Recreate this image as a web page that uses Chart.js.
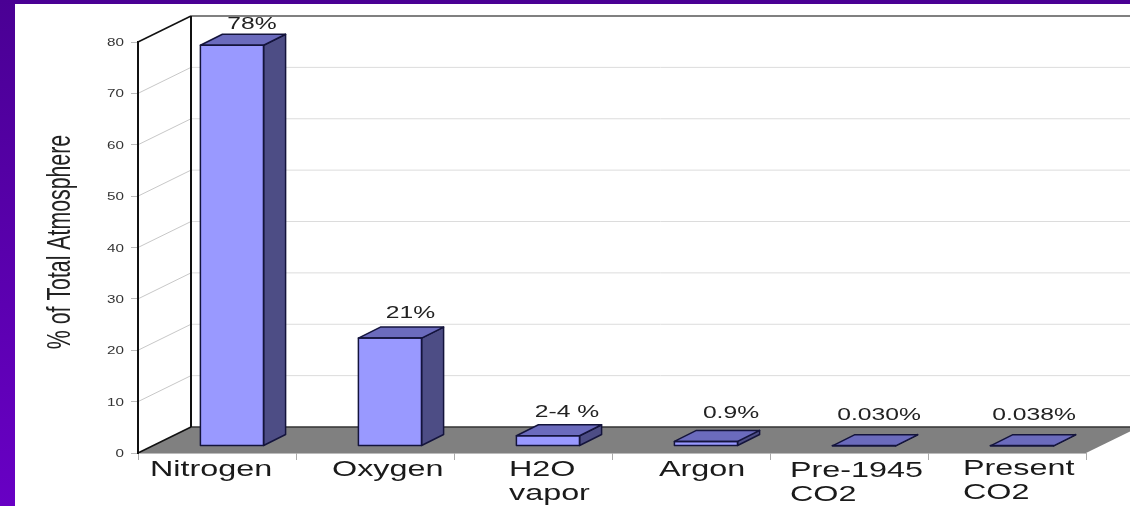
<!DOCTYPE html>
<html>
<head>
<meta charset="utf-8">
<title>Atmosphere</title>
<script src="https://cdn.jsdelivr.net/npm/chart.js@4"></script>
<style>
    html, body { margin: 0; padding: 0; overflow: hidden; }
    body { width: 1130px; height: 506px; background: linear-gradient(#4a0094, #6800c4); }
    #atmosphereChart { position: absolute; left: 0; top: 0; }
</style>
</head>
<body>
<canvas id="atmosphereChart" width="1130" height="506"></canvas>
<script>
var categories = [["Nitrogen"], ["Oxygen"], ["H2O", "vapor"], ["Argon"], ["Pre-1945", "CO2"], ["Present", "CO2"]];
var percentValues = [78, 21, 2, 0.9, 0.03, 0.038];
var valueLabels = ["78%", "21%", "2-4 %", "0.9%", "0.030%", "0.038%"];
var yTicks = [0, 10, 20, 30, 40, 50, 60, 70, 80];
var yTitle = "% of Total Atmosphere";

// the source picture is stretched sideways, so text is widened when drawn
var textStretch = 1.45;
var wall = { dx: 53, dy: -26 };
var barFront = { dx: 15, dy: -7 };
var barDepth = { dx: 22, dy: -11 };
var labelShift = [-67, -43, -24, -32, -59, -44];
var labelDrop = [23, 23, 23, 23, 24, 22];
var valueShift = [35, 35.5, 34, 40, 30, 27];
var valueLift = [5, 9, 8, 12, 15, 15];

function stretchedText(ctx, text, x, y, size, color, align) {
    ctx.save();
    ctx.translate(x, y);
    ctx.scale(textStretch, 1);
    ctx.font = size + "px 'Liberation Sans'";
    ctx.fillStyle = color;
    ctx.textAlign = align;
    ctx.textBaseline = "alphabetic";
    ctx.fillText(text, 0, 0);
    ctx.restore();
}

function poly(ctx, points, fill, stroke, width) {
    ctx.beginPath();
    points.forEach(function (p, i) {
        if (i === 0) ctx.moveTo(p[0], p[1]);
        else ctx.lineTo(p[0], p[1]);
    });
    ctx.closePath();
    if (fill) { ctx.fillStyle = fill; ctx.fill(); }
    if (stroke) { ctx.strokeStyle = stroke; ctx.lineWidth = width; ctx.stroke(); }
}

function line(ctx, x1, y1, x2, y2, color, width) {
    ctx.beginPath();
    ctx.moveTo(x1, y1);
    ctx.lineTo(x2, y2);
    ctx.strokeStyle = color;
    ctx.lineWidth = width;
    ctx.stroke();
}

var roomPlugin = {
    id: "room",
    beforeDraw: function (chart) {
        var ctx = chart.ctx, a = chart.chartArea, y = chart.scales.y;
        ctx.save();
        ctx.fillStyle = "#ffffff";
        ctx.fillRect(15, 4, 1115, 502);
        // floor
        var floorTop = a.bottom + wall.dy;
        poly(ctx, [[a.left, a.bottom], [a.left + wall.dx, floorTop], [a.right + wall.dx, floorTop], [a.right, a.bottom]], "#808080");
        // grid on back wall and side wall
        yTicks.forEach(function (t) {
            var py = y.getPixelForValue(t);
            if (t > 0 && t < 80) {
                line(ctx, a.left, py, a.left + wall.dx, py + wall.dy, "#c8c8c8", 1);
                line(ctx, a.left + wall.dx, py + wall.dy, 1130, py + wall.dy, "#dcdcdc", 1);
            }
        });
        var top = y.getPixelForValue(80);
        line(ctx, a.left + wall.dx, top + wall.dy, 1130, top + wall.dy, "#808080", 2);
        line(ctx, a.left + wall.dx, floorTop, 1130, floorTop, "#333333", 1.5);
        line(ctx, a.left + wall.dx, top + wall.dy, a.left + wall.dx, floorTop, "#111111", 2);
        line(ctx, a.left, top, a.left + wall.dx, top + wall.dy, "#111111", 1.5);
        line(ctx, a.left, a.bottom, a.left + wall.dx, floorTop, "#111111", 1.5);
        line(ctx, a.left, a.bottom + 0.5, a.right, a.bottom + 0.5, "#bbbbbb", 1);
        ctx.restore();
    },
    beforeDatasetsDraw: function (chart) {
        chart.ctx.save();
        chart.ctx.translate(barFront.dx, barFront.dy);
    },
    afterDatasetsDraw: function (chart) {
        var ctx = chart.ctx;
        ctx.restore();
        ctx.save();
        ctx.lineJoin = "round";
        chart.getDatasetMeta(0).data.forEach(function (bar, i) {
            var l = bar.x - bar.width / 2 + barFront.dx;
            var r = bar.x + bar.width / 2 + barFront.dx;
            var t = bar.y + barFront.dy;
            var b = bar.base + barFront.dy;
            var dx = barDepth.dx, dy = barDepth.dy;
            poly(ctx, [[r, t], [r + dx, t + dy], [r + dx, b + dy], [r, b]], "#4d4d85", "#14143c", 1.5);
            poly(ctx, [[l, t], [l + dx, t + dy], [r + dx, t + dy], [r, t]], "#6b6bbd", "#14143c", 1.5);
            poly(ctx, [[l, t], [r, t], [r, b], [l, b]], null, "#14143c", 1.5);
            stretchedText(ctx, valueLabels[i], bar.x + valueShift[i], t + dy - valueLift[i], 17, "#222222", "center");
        });
        ctx.restore();
    },
    afterDraw: function (chart) {
        var ctx = chart.ctx, a = chart.chartArea;
        yTicks.forEach(function (t) {
            stretchedText(ctx, String(t), 124, chart.scales.y.getPixelForValue(t) + 4, 10.5, "#333333", "right");
        });
        categories.forEach(function (lines, i) {
            var x = chart.scales.x.getPixelForValue(i) + labelShift[i];
            lines.forEach(function (text, n) {
                stretchedText(ctx, text, x, a.bottom + labelDrop[i] + n * 24, 22.3, "#1a1a1a", "left");
            });
        });
        ctx.save();
        ctx.translate(70, 242);
        ctx.scale(1.6, 1);
        ctx.rotate(-Math.PI / 2);
        ctx.font = "21.3px 'Liberation Sans'";
        ctx.fillStyle = "#222222";
        ctx.textAlign = "center";
        ctx.fillText(yTitle, 0, 0);
        ctx.restore();
    }
};

var ctx = document.getElementById("atmosphereChart").getContext("2d");
var atmosphereChart = new Chart(ctx, {
    type: "bar",
    data: {
        labels: categories,
        datasets: [
            {
                data: percentValues,
                backgroundColor: "#9999ff",
                borderWidth: 0,
                barPercentage: 0.4,
                categoryPercentage: 1,
            },
        ],
    },
    options: {
        responsive: false,
        animation: false,
        layout: { padding: { left: 138, right: 44, top: 42, bottom: 53 } },
        plugins: { legend: { display: false }, tooltip: { enabled: false } },
        scales: {
            x: {
                ticks: { display: false },
                border: { display: false },
                grid: { drawOnChartArea: false, tickLength: 7, color: "#aaaaaa" },
                afterFit: function (scale) { scale.height = 0; },
            },
            y: {
                min: 0,
                max: 80,
                afterBuildTicks: function (scale) {
                    scale.ticks = yTicks.map(function (v) { return { value: v }; });
                },
                ticks: { display: false },
                border: { display: true, color: "#111111", width: 2 },
                grid: { drawOnChartArea: false, tickLength: 7, color: "#bbbbbb" },
                afterFit: function (scale) { scale.width = 0; },
            },
        },
    },
    plugins: [roomPlugin],
});
</script>
</body>
</html>
